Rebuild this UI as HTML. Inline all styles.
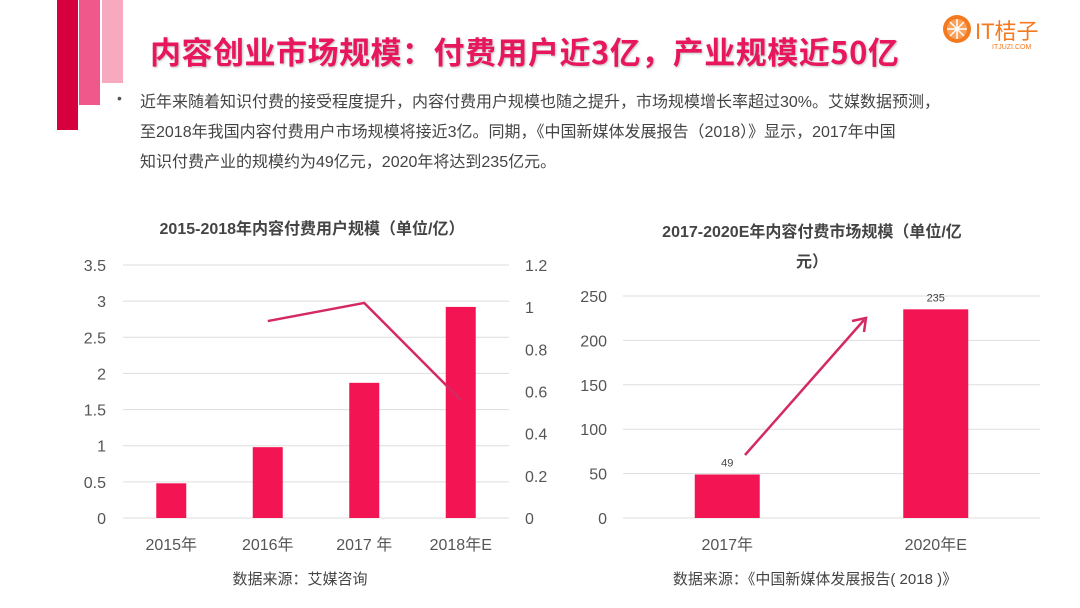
<!DOCTYPE html>
<html><head><meta charset="utf-8">
<style>
body{margin:0;width:1080px;height:608px;background:#fff;position:relative;overflow:hidden;font-family:"Liberation Sans","Noto Sans CJK SC",sans-serif;}
.abs{position:absolute;}
</style></head><body>
<div class="abs" style="left:57px;top:0;width:21px;height:130px;background:#d6003f"></div>
<div class="abs" style="left:79px;top:0;width:21px;height:105px;background:#f0578a"></div>
<div class="abs" style="left:102px;top:0;width:21px;height:83px;background:#f7a9c0"></div>
<div class="abs" style="left:150px;top:28px;font-size:31px;font-weight:bold;color:#e8175d;letter-spacing:0.5px;text-shadow:1px 1px 2px rgba(0,0,0,0.25);font-family:'Noto Sans CJK SC',sans-serif;">内容创业市场规模：付费用户近3亿，产业规模近50亿</div>
<div class="abs" style="left:942px;top:14px;width:130px;height:40px;">
<svg width="130" height="40"><circle cx="15" cy="15" r="14" fill="#f47a20"/><circle cx="15" cy="15" r="10" fill="#f9a05a"/>
<g stroke="#fff" stroke-width="1.5"><line x1="15" y1="5" x2="15" y2="25"/><line x1="5" y1="15" x2="25" y2="15"/><line x1="8" y1="8" x2="22" y2="22"/><line x1="22" y1="8" x2="8" y2="22"/></g>
<text x="33" y="25" font-size="22" fill="#f47a20" font-family="Liberation Sans,Noto Sans CJK SC,sans-serif">IT桔子</text>
<text x="50" y="35" font-size="7" fill="#f47a20" font-family="Liberation Sans,sans-serif">ITJUZI.COM</text></svg></div>
<div class="abs" style="left:117px;top:90px;font-size:14px;color:#555">•</div>
<div class="abs" style="left:140px;top:88px;width:900px;font-size:16px;line-height:30px;color:#444;">近年来随着知识付费的接受程度提升，内容付费用户规模也随之提升，市场规模增长率超过30%。艾媒数据预测，<br>至2018年我国内容付费用户市场规模将接近3亿。同期，《中国新媒体发展报告（2018）》显示，2017年中国<br>知识付费产业的规模约为49亿元，2020年将达到235亿元。</div>
<svg class="abs" style="left:0;top:0" width="1080" height="608" id="charts">
<text x="312" y="234" text-anchor="middle" font-size="16" font-weight="bold" fill="#444">2015-2018年内容付费用户规模（单位/亿）</text>
<text x="812" y="237" text-anchor="middle" font-size="16" font-weight="bold" fill="#444">2017-2020E年内容付费市场规模（单位/亿</text>
<text x="812" y="267" text-anchor="middle" font-size="16" font-weight="bold" fill="#444">元）</text>
<text x="300" y="584" text-anchor="middle" font-size="15" fill="#444">数据来源：艾媒咨询</text>
<text x="815" y="584" text-anchor="middle" font-size="15" fill="#444">数据来源：《中国新媒体发展报告( 2018 )》</text>
<g id="left"></g><g id="right"></g>
</svg>
<script>
const leftCats=['2015年','2016年','2017 年','2018年E'];
const leftBars=[0.48,0.98,1.87,2.92];
const leftLine=[null,0.934,1.02,0.56];
const leftTicks=[0,0.5,1,1.5,2,2.5,3,3.5];
const leftTicksR=[0,0.2,0.4,0.6,0.8,1,1.2];
const rightCats=['2017年','2020年E'];
const rightBars=[49,235];
const rightTicks=[0,50,100,150,200,250];
const NS='http://www.w3.org/2000/svg';
function mk(p,t,a){const e=document.createElementNS(NS,t);for(const k in a)e.setAttribute(k,a[k]);p.appendChild(e);return e;}
// left chart
const L=document.getElementById('left');
const lx0=123,lx1=509,ly0=518,ly1=265;
const ly=v=>ly0-(v/3.5)*(ly0-ly1), lyr=v=>ly0-(v/1.2)*(ly0-ly1);
const lbw=(lx1-lx0)/leftCats.length, lcx=i=>lx0+lbw*(i+0.5);
leftTicks.forEach(t=>{const g=mk(L,'line',{x1:lx0,x2:lx1,y1:ly(t),y2:ly(t),stroke:'#ddd','stroke-width':1});


const tx=mk(L,'text',{x:106,y:ly(t)+6,'text-anchor':'end','font-size':16,fill:'#555'});tx.textContent=t;

});
leftTicksR.forEach(t=>{const tx=mk(L,'text',{x:525,y:lyr(t)+6,'font-size':16,fill:'#555'});tx.textContent=t;

});
leftCats.forEach((c,i)=>{const r=mk(L,'rect',{x:lcx(i)-15,y:ly(leftBars[i]),width:30,height:ly0-ly(leftBars[i]),fill:'#f31553'});


const tx=mk(L,'text',{x:lcx(i),y:550,'text-anchor':'middle','font-size':16,fill:'#555'});tx.textContent=c;

});
const pts=leftLine.map((v,i)=>v==null?null:[lcx(i),lyr(v)]).filter(p=>p);
const pl=mk(L,'polyline',{points:pts.map(p=>p.join(',')).join(' '),fill:'none',stroke:'#d42a62','stroke-width':2.5});


// right chart
const R=document.getElementById('right');
const rx0=623,rx1=1040,ry0=518,ry1=296;
const ry=v=>ry0-(v/250)*(ry0-ry1);
const rbw=(rx1-rx0)/rightCats.length, rcx=i=>rx0+rbw*(i+0.5);
rightTicks.forEach(t=>{const g=mk(R,'line',{x1:rx0,x2:rx1,y1:ry(t),y2:ry(t),stroke:'#ddd','stroke-width':1});


const tx=mk(R,'text',{x:607,y:ry(t)+6,'text-anchor':'end','font-size':16,fill:'#555'});tx.textContent=t;

});
rightCats.forEach((c,i)=>{const r=mk(R,'rect',{x:rcx(i)-32.5,y:ry(rightBars[i]),width:65,height:ry0-ry(rightBars[i]),fill:'#f31553'});


const v=mk(R,'text',{x:rcx(i),y:ry(rightBars[i])-8,'text-anchor':'middle','font-size':11,fill:'#444'});v.textContent=rightBars[i];


const tx=mk(R,'text',{x:rcx(i),y:550,'text-anchor':'middle','font-size':16,fill:'#555'});tx.textContent=c;

});
const ar=mk(R,'line',{x1:745,y1:455,x2:864,y2:320,stroke:'#d42a62','stroke-width':2.5});


const ah=mk(R,'polyline',{points:'852,321 866,318 864,332',fill:'none',stroke:'#d42a62','stroke-width':2.5});


</script>
</body></html>
